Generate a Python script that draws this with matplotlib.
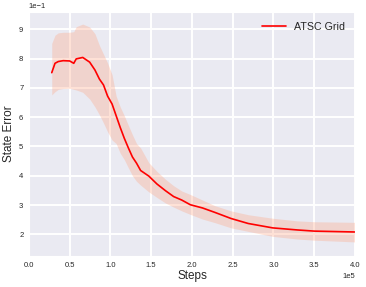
import matplotlib
matplotlib.use("Agg")
import matplotlib.pyplot as plt
import seaborn as sns
import numpy as np

# Data (steps in units of 1e5, error in units of 1e-1)
steps = [0.28, 0.32, 0.36, 0.42, 0.50, 0.55, 0.58, 0.66, 0.745, 0.81, 0.865, 0.915,
         0.965, 1.02, 1.07, 1.12, 1.17, 1.22, 1.27, 1.32, 1.37, 1.47, 1.57, 1.675,
         1.775, 1.875, 1.98, 2.13, 2.28, 2.48, 2.69, 2.99, 3.29, 3.50, 4.00]
mean_err = [7.52, 7.84, 7.90, 7.93, 7.92, 7.84, 7.99, 8.04, 7.88, 7.61, 7.30, 7.10,
            6.72, 6.45, 6.05, 5.65, 5.28, 4.95, 4.64, 4.43, 4.18, 3.99, 3.72, 3.49,
            3.29, 3.17, 3.01, 2.90, 2.75, 2.54, 2.37, 2.22, 2.15, 2.11, 2.08]
upper_err = [8.52, 8.80, 8.88, 8.90, 8.90, 8.92, 9.09, 9.18, 9.08, 8.85, 8.45, 8.15,
             7.85, 7.45, 6.72, 6.35, 6.05, 5.72, 5.40, 5.10, 4.95, 4.45, 4.15, 3.88,
             3.66, 3.48, 3.36, 3.17, 2.98, 2.80, 2.67, 2.55, 2.46, 2.43, 2.41]
lower_err = [6.76, 6.87, 6.95, 6.98, 6.99, 6.95, 6.93, 6.85, 6.62, 6.35, 6.08, 5.80,
             5.50, 5.22, 5.10, 4.77, 4.55, 4.27, 4.00, 3.81, 3.68, 3.45, 3.26, 3.07,
             2.93, 2.80, 2.68, 2.52, 2.40, 2.22, 2.10, 1.93, 1.84, 1.80, 1.74]
label = "ATSC Grid"

sns.set_style("darkgrid")
plt.rcParams['font.family'] = ['Liberation Sans', 'DejaVu Sans']

x = np.array(steps) * 1e5
m = np.array(mean_err) * 0.1
u = np.array(upper_err) * 0.1
l = np.array(lower_err) * 0.1

fig = plt.figure(figsize=(3.66, 2.87), dpi=100)
ax = fig.add_axes([0.079, 0.108, 0.891, 0.850])
ax.fill_between(x, l, u, color='lightsalmon', alpha=0.3, linewidth=0)
ax.plot(x, m, color='red', lw=1.2, label=label)
ax.set_xlim(0, 4e5)
ax.set_ylim(0.126, 0.959)
ax.grid(True, color='white', linewidth=1.4)
ax.ticklabel_format(style='sci', axis='both', scilimits=(0, 0))
ax.tick_params(labelsize=5.5, colors='#262626', length=0, pad=4)
ax.xaxis.get_offset_text().set_fontsize(5.5)
ax.yaxis.get_offset_text().set_fontsize(5.5)
ax.set_xlabel("Steps", fontsize=8.5, labelpad=1)
ax.set_ylabel("State Error", fontsize=8.5, labelpad=3)
ax.legend(loc='upper right', frameon=False, fontsize=7.7, handlelength=2.2)
fig.savefig("out.png", dpi=100)
